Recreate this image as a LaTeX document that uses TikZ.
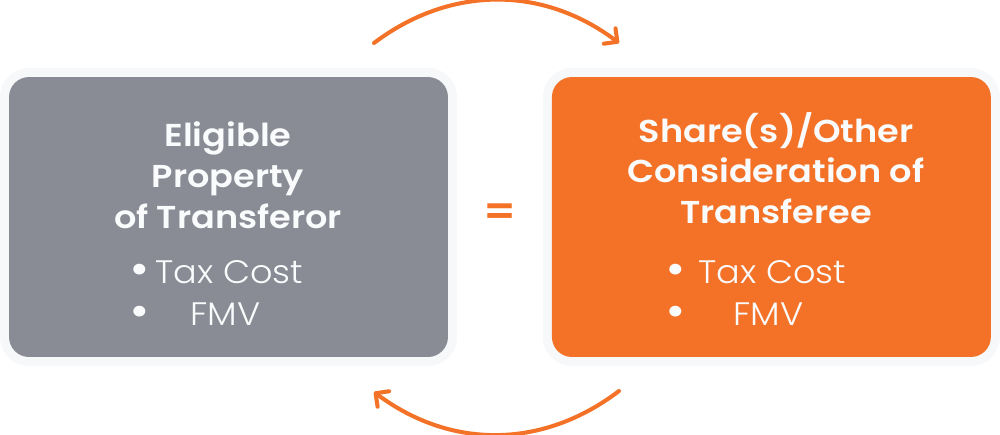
\documentclass[tikz,border=0pt]{standalone}
\usepackage{fontspec}
\setmainfont{Poppins}
\newfontfamily\headfont{Poppins SemiBold}[FakeStretch=1.11]
\newfontfamily\itemfont{Poppins Light}[FakeStretch=1.08]
\usepackage{xcolor}
\usetikzlibrary{positioning, arrows.meta}
\definecolor{boxgray}{HTML}{898C94}
\definecolor{boxorange}{HTML}{F37227}
\definecolor{halo}{HTML}{F7F8FA}
\definecolor{txt}{HTML}{FAFBFC}
\newcommand\dotmark{\makebox[0.4cm]{\smash{\raisebox{0.02cm}{\headfont\fontsize{22}{22}\selectfont •}}}}

\begin{document}
\begin{tikzpicture}[x=0.02cm, y=-0.02cm, >={Straight Barb[length=5.5pt,width=11pt,round]},
    card/.style={rectangle, rounded corners=0.4cm, minimum width=8.78cm, minimum height=5.6cm,
        inner sep=0pt, outer sep=0pt, preaction={draw=halo, line width=0.36cm}},
    heading/.style={text=txt, align=center, font=\headfont\fontsize{18}{23.2}\selectfont},
    item/.style={text=txt, anchor=base west, inner sep=0pt, font=\itemfont\fontsize{18.5}{22}\selectfont},
    swap/.style={draw=boxorange, line width=2.3pt, line cap=round, ->}]
    \useasboundingbox (0,0) rectangle (1000,434);
    % the two cards
    \node[card, fill=boxgray] (transferor) at (228.5,217) {};
    \node[card, fill=boxorange] (transferee) [right=2.08cm of transferor] {};
    \node[text=boxorange, font=\headfont\fontsize{23}{23}\selectfont] (equals) at (500,215) {=};

    % transferor side
    \node[heading] (headL) at (228,175) {Eligible\\Property\\of Transferor};
    \node[item] (costL) at (129,283) {\dotmark\hspace{0.12cm}Tax Cost};
    \node[item] (fmvL) at (129,325) {\dotmark\hspace{0.82cm}FMV};

    % transferee side
    \node[heading] (headR) at (776,168) {Share(s)/Other\\Consideration of\\Transferee};
    \node[item] (costR) at (665,283) {\dotmark\hspace{0.26cm}Tax Cost};
    \node[item] (fmvR) at (665,325) {\dotmark\hspace{0.96cm}FMV};

    % exchange arrows
    \coordinate (topL) at (374,43);
    \coordinate (topR) at (619,43);
    \coordinate (botR) at (619,391);
    \coordinate (botL) at (374,392);
    \draw[swap] (topL) to[bend left=37] (topR);
    \draw[swap] (botR) to[bend left=37] (botL);
\end{tikzpicture}
\end{document}
